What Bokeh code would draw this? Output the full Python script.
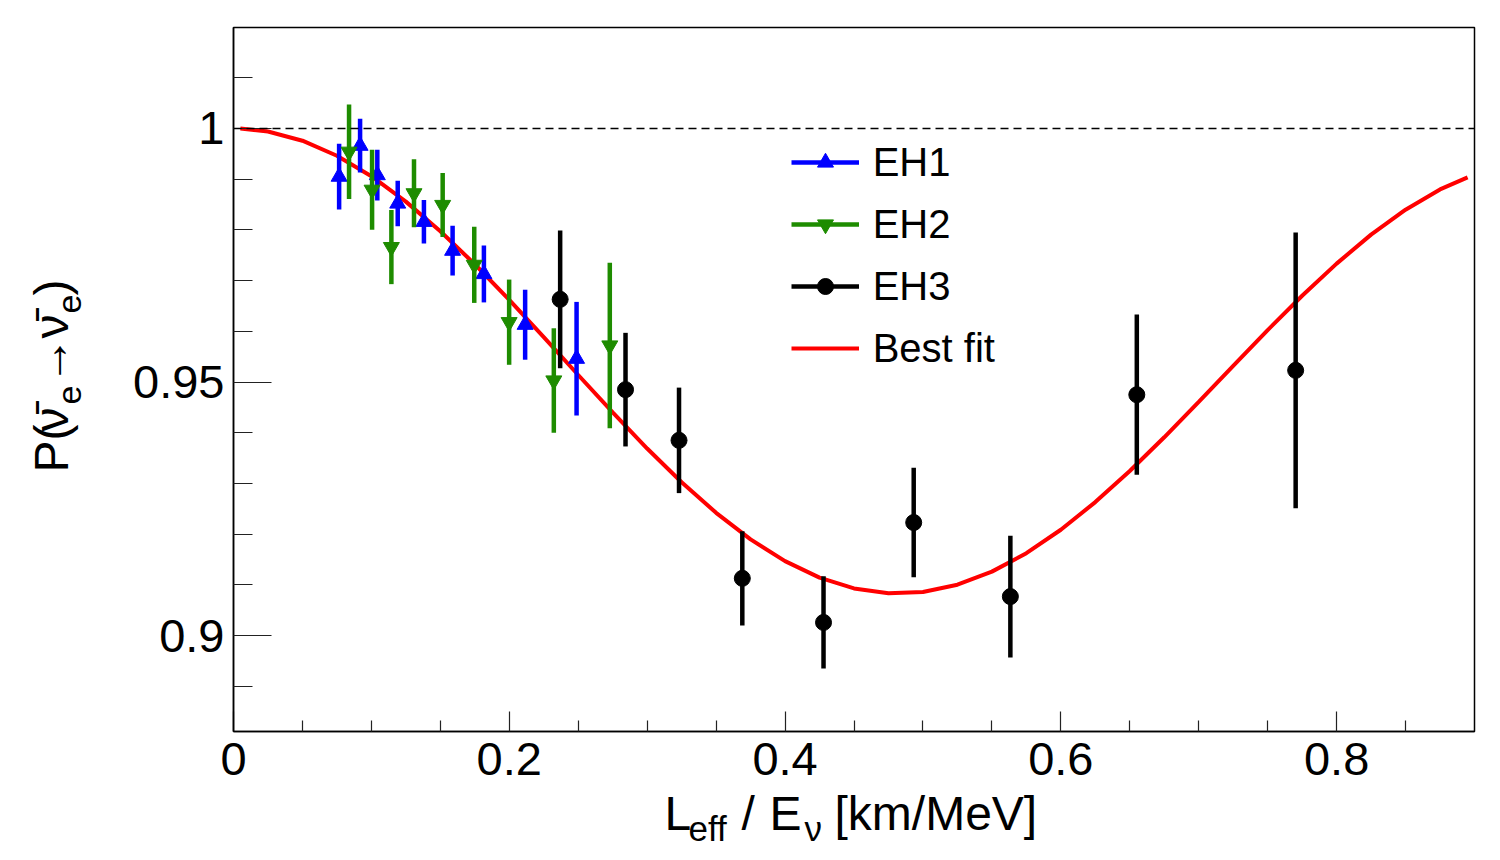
import numpy as np
from bokeh.plotting import figure
from bokeh.layouts import row, column
from bokeh.models import (ColumnDataSource, FixedTicker, Span, Label, Legend,
                          LegendItem, Range1d)
from bokeh.embed import file_html
from bokeh.resources import INLINE

# ---------------- data ----------------
eh1_x = [0.0766, 0.0918, 0.1043, 0.1191, 0.1381, 0.1589, 0.1816, 0.2115, 0.2488]
eh1_p = [0.9905, 0.9966, 0.9908, 0.9852, 0.9816, 0.9759, 0.9713, 0.9613, 0.9546]
eh1_e = [0.0065, 0.0053, 0.0050, 0.0045, 0.0043, 0.0049, 0.0056, 0.0069, 0.0112]

eh2_x = [0.0838, 0.1005, 0.1145, 0.1309, 0.1517, 0.1746, 0.1999, 0.2323, 0.2729]
eh2_p = [0.9954, 0.9879, 0.9766, 0.9872, 0.9849, 0.9731, 0.9618, 0.9503, 0.9572]
eh2_e = [0.0093, 0.0079, 0.0073, 0.0067, 0.0063, 0.0075, 0.0084, 0.0103, 0.0163]

eh3_x = [0.2369, 0.2843, 0.3231, 0.3690, 0.4279, 0.4933, 0.5634, 0.6551, 0.7703]
eh3_p = [0.9663, 0.9485, 0.9385, 0.9113, 0.9026, 0.9223, 0.9077, 0.9475, 0.9523]
eh3_e = [0.0136, 0.0112, 0.0104, 0.0093, 0.0091, 0.0108, 0.0120, 0.0158, 0.0272]

fit_x = [0.005, 0.025, 0.05, 0.075, 0.1, 0.125, 0.15, 0.175, 0.2, 0.225, 0.25,
         0.275, 0.3, 0.325, 0.35, 0.375, 0.4, 0.425, 0.45, 0.475, 0.5, 0.525,
         0.55, 0.575, 0.6, 0.625, 0.65, 0.675, 0.7, 0.725, 0.75, 0.775, 0.8,
         0.825, 0.85, 0.875, 0.895]
fit_p = [0.99998, 0.99939, 0.99758, 0.99462, 0.99058, 0.98557, 0.97973, 0.97322,
         0.96620, 0.95886, 0.95139, 0.94401, 0.93689, 0.93024, 0.92422, 0.91899,
         0.91469, 0.91144, 0.90931, 0.90835, 0.90860, 0.91004, 0.91262, 0.91626,
         0.92088, 0.92633, 0.93246, 0.93911, 0.94609, 0.95319, 0.96024, 0.96702,
         0.97335, 0.97906, 0.98398, 0.98797, 0.99035]

x_major = [0, 0.2, 0.4, 0.6, 0.8]
x_labels = ["0", "0.2", "0.4", "0.6", "0.8"]
x_minor = [0.05, 0.1, 0.15, 0.25, 0.3, 0.35, 0.45, 0.5, 0.55, 0.65, 0.7, 0.75, 0.85]
y_major = [0.9, 0.95, 1.0]
y_labels = ["0.9", "0.95", "1"]
y_minor = [0.89, 0.91, 0.92, 0.93, 0.94, 0.96, 0.97, 0.98, 0.99, 1.01]

series = [
    ("EH1", eh1_x, eh1_p, eh1_e, "#0000ff", "triangle"),
    ("EH2", eh2_x, eh2_p, eh2_e, "#1e8c00", "inverted_triangle"),
    ("EH3", eh3_x, eh3_p, eh3_e, "#000000", "circle"),
]

FONT = "Liberation Sans"
TOTAL_W, TOTAL_H = 1484, 844
YW = 110          # width of the strip holding the y title
PH = 794          # height of the main plot
FL, FT, FR, FB = 233.3, 27.0, 1474.0, 731.0   # frame edges in picture pixels
MID = 0.3465      # em-box middle above the baseline (Liberation Sans)

p = figure(width=TOTAL_W - YW, height=PH, output_backend="svg",
           toolbar_location=None,
           x_range=Range1d(0, 0.9), y_range=Range1d(0.8811, 1.0199),
           min_border_left=int(round(FL - YW)), min_border_right=TOTAL_W - int(FR),
           min_border_top=int(FT), min_border_bottom=PH - int(FB))
p.frame_align = False
p.xgrid.visible = False
p.ygrid.visible = False
p.outline_line_color = "black"
p.outline_line_width = 1.5
p.background_fill_color = "white"
p.border_fill_color = "white"

xa = p.xaxis[0]
xa.ticker = FixedTicker(ticks=x_major, minor_ticks=x_minor)
xa.major_label_overrides = {v: s for v, s in zip(x_major, x_labels)}
xa.major_tick_in = 20
xa.major_tick_out = 0
xa.minor_tick_in = 11
xa.minor_tick_out = 0
xa.major_label_standoff = 11

ya = p.yaxis[0]
ya.ticker = FixedTicker(ticks=y_major, minor_ticks=y_minor)
ya.major_label_overrides = {v: s for v, s in zip(y_major, y_labels)}
ya.major_tick_in = 38
ya.major_tick_out = 0
ya.minor_tick_in = 19
ya.minor_tick_out = 0
ya.major_label_standoff = 9

for ax in (xa, ya):
    ax.axis_line_color = "black"
    ax.axis_line_width = 1.5
    ax.major_tick_line_color = "#222222"
    ax.minor_tick_line_color = "#222222"
    ax.major_tick_line_width = 1.2
    ax.minor_tick_line_width = 1.2
    ax.major_label_text_font = FONT
    ax.major_label_text_font_size = "47px"
    ax.major_label_text_color = "black"

p.add_layout(Span(location=1.0, dimension="width", line_color="black",
                  line_dash="8 5", line_width=1.5))

curve = p.line(fit_x, fit_p, line_color="#ff0000", line_width=4)

items = []
for name, xs, ps, es, col, mk in series:
    xs = np.array(xs); ps = np.array(ps); es = np.array(es)
    src = ColumnDataSource(dict(x=xs, y=ps, lo=ps - es, hi=ps + es))
    seg = p.segment(x0="x", y0="lo", x1="x", y1="hi", source=src,
                    line_color=col, line_width=4.5)
    sc = p.scatter(x="x", y="y", source=src, marker=mk, size=16,
                   fill_color=col, line_color=col)
    items.append(LegendItem(label=name, renderers=[seg, sc]))
items.append(LegendItem(label="Best fit", renderers=[curve]))

legend = Legend(items=items, location=(791 - FL, FB - 370.5))
legend.border_line_color = None
legend.background_fill_alpha = 0
legend.glyph_width = 68
legend.glyph_height = 40
legend.label_height = 40
legend.spacing = 17
legend.padding = 0
legend.margin = 0
legend.label_standoff = 14
legend.label_text_font = FONT
legend.label_text_font_size = "40px"
legend.label_text_color = "black"
p.add_layout(legend)


def strip(w, h):
    f = figure(width=w, height=h, output_backend="svg", toolbar_location=None,
               x_range=Range1d(0, 1), y_range=Range1d(0, 1),
               x_axis_type=None, y_axis_type=None,
               min_border=0, min_border_left=0, min_border_right=0,
               min_border_top=0, min_border_bottom=0)
    f.frame_align = False
    f.outline_line_color = None
    f.xgrid.visible = False
    f.ygrid.visible = False
    f.background_fill_color = "white"
    f.border_fill_color = "white"
    return f


# strip on the left for the y title, strip below for the x title
XH = TOTAL_H - PH
yfig = strip(YW, TOTAL_H)
xfig = strip(TOTAL_W - YW, XH)


def txt(f, ox, oy, h, s, px, py, size, rotated=False):
    # px, py: picture pixels of the text baseline start; ox, oy: strip origin
    shift = MID * size
    if rotated:
        px -= shift
    else:
        py -= shift
    f.add_layout(Label(x=px - ox, y=h - (py - oy), x_units="screen", y_units="screen",
                       text=s, text_font=FONT, text_font_size=f"{size}px",
                       text_baseline="alphabetic", text_align="left",
                       angle=(np.pi / 2 if rotated else 0.0), text_color="black"))


# x-axis title: L_eff / E_nu [km/MeV]
txt(xfig, YW, PH, XH, "L", 664, 830, 48)
txt(xfig, YW, PH, XH, "eff", 688, 840, 35)
txt(xfig, YW, PH, XH, "/", 741, 830, 48)
txt(xfig, YW, PH, XH, "E", 769, 830, 48)
txt(xfig, YW, PH, XH, "ν", 804, 840, 35)
txt(xfig, YW, PH, XH, "[km/MeV]", 834, 830, 48)

# y-axis title: P(nu_e-bar -> nu_e-bar), rotated
txt(yfig, 0, 0, TOTAL_H, "P(", 68, 472, 48, True)
txt(yfig, 0, 0, TOTAL_H, "ν\u0304", 68, 431, 48, True)
txt(yfig, 0, 0, TOTAL_H, "e", 81, 404, 34, True)
txt(yfig, 0, 0, TOTAL_H, "→", 68, 384, 48, True)
txt(yfig, 0, 0, TOTAL_H, "ν\u0304", 68, 338, 48, True)
txt(yfig, 0, 0, TOTAL_H, "e", 81, 313, 34, True)
txt(yfig, 0, 0, TOTAL_H, ")", 68, 295, 48, True)

layout = row(yfig, column(p, xfig))
open("out.html", "w").write(file_html(layout, INLINE))
